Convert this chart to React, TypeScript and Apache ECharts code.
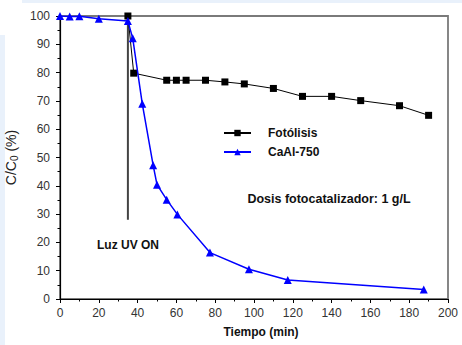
import React, { useEffect, useRef } from "react";
import * as echarts from "echarts";

const fotolisisX = [35, 38, 55, 60, 65, 75, 85, 95, 110, 125, 140, 155, 175, 190];
const fotolisisY = [100, 79.8, 77.3, 77.3, 77.3, 77.3, 76.7, 76.0, 74.4, 71.6, 71.6, 70.1, 68.3, 64.9];
const caalX = [0, 5, 10, 20, 35, 37.5, 42.4, 48, 50, 55, 60.5, 77.3, 97.4, 117.4, 187.5];
const caalY = [100, 99.8, 99.9, 99.0, 98.2, 92.1, 69, 47.3, 40.4, 35.1, 29.9, 16.4, 10.5, 6.7, 3.4];
const uvLineX = [35, 35];
const uvLineY = [100, 28];
const xTicks = { min: 0, max: 200, interval: 20 };
const yTicks = { min: 0, max: 100, interval: 10 };

const FONT = "Liberation Sans, Arial, sans-serif";

export default function App() {
  const ref = useRef<HTMLDivElement>(null);
  useEffect(() => {
    document.body.style.margin = "0";
    const chart = echarts.init(ref.current!, null, { renderer: "svg" });
    const pair = (xs: number[], ys: number[]) => xs.map((x, i) => [x, ys[i]]);
    chart.setOption({
      animation: false,
      backgroundColor: "#ffffff",
      textStyle: { fontFamily: FONT },
      grid: {
        left: 60, right: 14, top: 16, bottom: 46,
        containLabel: false,
        outerBoundsMode: "none",
        show: true, borderColor: "#7a7a7a", borderWidth: 1.8, backgroundColor: "transparent",
      },
      legend: {
        orient: "vertical",
        left: 218,
        top: 122,
        itemWidth: 27,
        itemHeight: 8,
        itemGap: 7,
        data: ["Fotólisis", "CaAl-750"],
        textStyle: { fontFamily: FONT, fontWeight: "bold", fontSize: 12, color: "#111", padding: [0, 0, 0, 12] },
      },
      xAxis: {
        type: "value",
        min: xTicks.min, max: xTicks.max, interval: xTicks.interval,
        name: "Tiempo (min)",
        nameLocation: "middle",
        nameGap: 27,
        nameTextStyle: { fontFamily: FONT, fontWeight: "bold", fontSize: 12, color: "#111", padding: [0, 0, 0, 14] },
        axisLine: { show: true, lineStyle: { color: "#000", width: 1.2 } },
        axisTick: { show: true, inside: false, length: 4, lineStyle: { color: "#000" } },
        minorTick: { show: true, splitNumber: 2, length: 2.5, lineStyle: { color: "#000" } },
        splitLine: { show: false },
        axisLabel: { margin: 8, fontSize: 12, color: "#333", fontFamily: FONT },
      },
      yAxis: {
        type: "value",
        min: yTicks.min, max: yTicks.max, interval: yTicks.interval,
        name: "{a|C/C}{b|0}{a| (%)}",
        nameLocation: "middle",
        nameGap: 32,
        nameTextStyle: {
          fontFamily: FONT, fontSize: 14, color: "#222",
          rich: {
            a: { fontFamily: FONT, fontSize: 14, color: "#222" },
            b: { fontFamily: FONT, fontSize: 10, color: "#222", verticalAlign: "bottom", padding: [6, 0, 0, 0] },
          },
        },
        axisLine: { show: true, lineStyle: { color: "#000", width: 1.2 } },
        axisTick: { show: true, inside: false, length: 4, lineStyle: { color: "#000" } },
        minorTick: { show: true, splitNumber: 2, length: 2.5, lineStyle: { color: "#000" } },
        splitLine: { show: false },
        axisLabel: { margin: 10, fontSize: 12, color: "#333", fontFamily: FONT },
      },
      series: [
        {
          name: "UV",
          type: "line",
          data: pair(uvLineX, uvLineY),
          symbol: "none",
          lineStyle: { color: "#444", width: 2 },
          z: 1,
        },
        {
          name: "Fotólisis",
          type: "line",
          data: pair(fotolisisX, fotolisisY),
          symbol: "rect",
          symbolSize: 7,
          itemStyle: { color: "#000" },
          lineStyle: { color: "#000", width: 1 },
          z: 3,
        },
        {
          name: "CaAl-750",
          type: "line",
          data: pair(caalX, caalY),
          symbol: "triangle",
          symbolSize: 8,
          itemStyle: { color: "#0000ff" },
          lineStyle: { color: "#0000ff", width: 1.5 },
          z: 4,
        },
      ],
      graphic: [
        { type: "rect", shape: { x: 0, y: 35, width: 5, height: 310 }, style: { fill: "#e9f1fb" }, silent: true },
        { type: "rect", shape: { x: 22, y: 0, width: 440, height: 3 }, style: { fill: "#e9f1fb" }, silent: true },
        {
          type: "text", x: 128, y: 245,
          style: { text: "Luz UV ON", fontFamily: FONT, fontWeight: "bold", fontSize: 12, fill: "#111", align: "center", verticalAlign: "middle" },
        },
        {
          type: "text", x: 329, y: 199,
          style: { text: "Dosis fotocatalizador: 1 g/L", fontFamily: FONT, fontWeight: "bold", fontSize: 12.5, fill: "#111", align: "center", verticalAlign: "middle" },
        },
      ],
    });
    return () => chart.dispose();
  }, []);
  return <div ref={ref} style={{ width: 462, height: 345 }} />;
}
